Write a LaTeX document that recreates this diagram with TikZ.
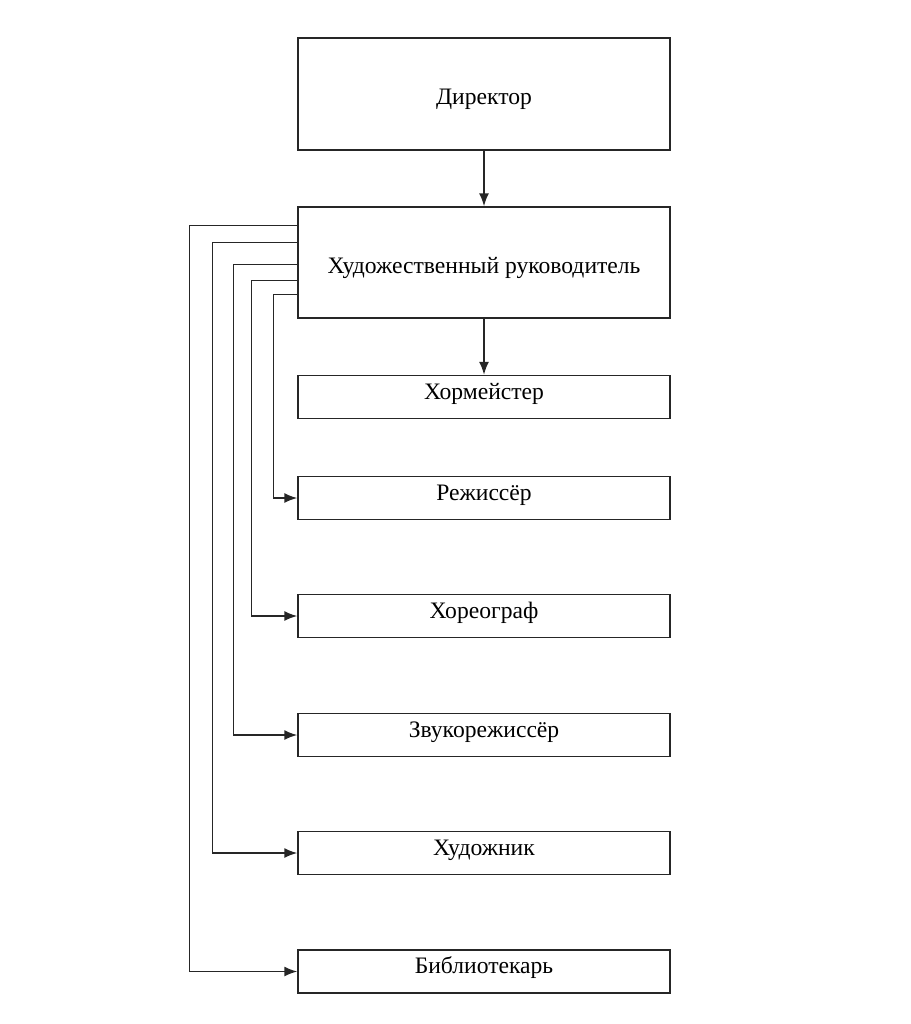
\documentclass[tikz,border=0pt]{standalone}
\usepackage{fontspec}
\setmainfont{Liberation Serif}
\usetikzlibrary{arrows.meta}
\begin{document}
\begin{tikzpicture}[x=0.5pt,y=-0.5pt,
  box/.style={draw=black!85,line width=0.75pt,minimum width=186pt,inner sep=0pt,font=\fontsize{11.8}{13}\selectfont},
  bigbox/.style={box,text height=10.5pt,text depth=0pt},
  smallbox/.style={box,minimum height=21.5pt,text height=6pt,text depth=4pt},
  arr/.style={draw=black!85,line width=0.75pt,-{Latex[length=6.5pt,width=5pt]}}]
 \useasboundingbox (0,0) rectangle (911,1024);
 \node[bigbox,minimum height=56pt] (dir) at (484,94) {Директор};
 \node[bigbox,minimum height=55.5pt] (hr) at (484,262.5) {Художественный руководитель};
 \node[smallbox] (chor) at (484,397) {Хормейстер};
 \node[smallbox] (rezh) at (484,498) {Режиссёр};
 \node[smallbox] (horeo) at (484,616) {Хореограф};
 \node[smallbox] (zvuk) at (484,735) {Звукорежиссёр};
 \node[smallbox] (hud) at (484,853) {Художник};
 \node[smallbox] (bib) at (484,971.5) {Библиотекарь};
 \draw[arr] (dir.south) -- (hr.north);
 \draw[arr] (hr.south) -- (chor.north);
 \foreach \dy/\dx/\target in {44pt/24/rezh,37pt/46/horeo,29pt/64/zvuk,18pt/85/hud,9.5pt/108/bib}
  \draw[arr] ([yshift=-\dy]hr.north west) -- ++(-\dx,0) |- (\target.west);
\end{tikzpicture}
\end{document}
